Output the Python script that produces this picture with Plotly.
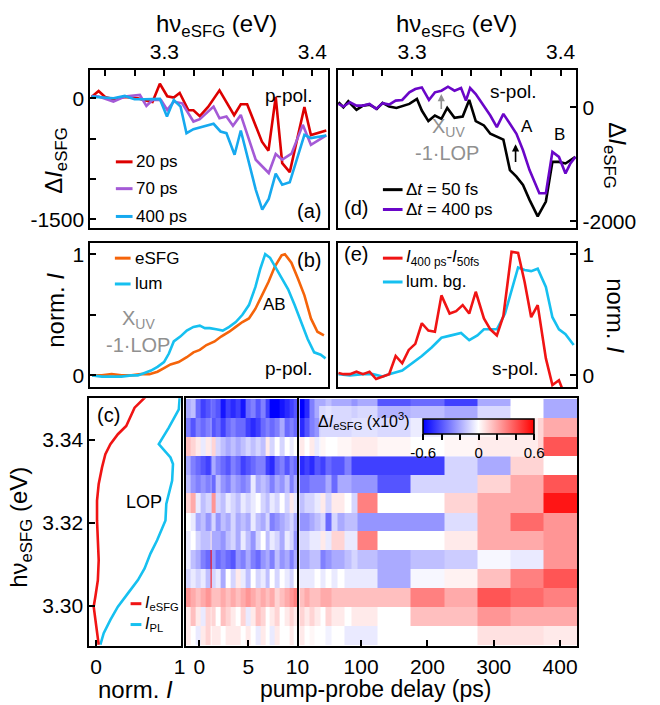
import plotly.graph_objects as go

W, H = 660, 705
FONT = "Liberation Sans, Arial, Helvetica, sans-serif"

# ---------------- data ----------------
# (a) p-pol. Delta I_eSFG vs photon energy
a20_e = [3.2508, 3.2556, 3.2600, 3.2656, 3.2733, 3.2821, 3.2866, 3.2920, 3.2970, 3.3020, 3.3064, 3.3104,
         3.3163, 3.3197, 3.3240, 3.3296, 3.3373, 3.3472, 3.3517, 3.3560, 3.3660, 3.3704, 3.3753, 3.3797,
         3.3848, 3.3947, 3.3991, 3.4095]
a20_v = [16, 90, 16, -12, 16, 0, -25, -45, 180, 25, 8, 65, -148, -148, -221, -107, 98, -209, -74, -74,
         -537, -648, 16, -803, -914, -107, -455, -400]
a70_e = [3.2508, 3.2556, 3.2656, 3.2733, 3.2835, 3.2879, 3.2920, 3.2978, 3.3020, 3.3064, 3.3121, 3.3197,
         3.3240, 3.3333, 3.3373, 3.3420, 3.3464, 3.3517, 3.3618, 3.3706, 3.3753, 3.3797, 3.3860, 3.3936,
         3.3991, 3.4095]
a70_v = [29, 21, -41, 21, 41, -94, -21, -21, -144, -41, -62, -288, -259, -103, -247, -226, -341, -206,
         -760, -925, -690, -760, -686, -329, -575, -460]
a400_e = [3.2508, 3.2556, 3.2656, 3.2733, 3.2799, 3.2866, 3.2970, 3.3018, 3.3064, 3.3110, 3.3150, 3.3197,
          3.3333, 3.3380, 3.3420, 3.3475, 3.3517, 3.3618, 3.3662, 3.3706, 3.3753, 3.3797, 3.3848, 3.3947,
          3.3991, 3.4095]
a400_v = [21, 12, 0, 29, -12, -12, -8, -226, -21, -103, -432, -382, -316, -411, -432, -699, -399, -1130,
          -1377, -1245, -933, -1069, -1040, -452, -493, -460]

# (b) p-pol. normalized eSFG and luminescence
b_sfg_e = [3.2512, 3.2578, 3.2644, 3.2711, 3.2777, 3.2843, 3.2899, 3.2954, 3.2998, 3.3042, 3.3097, 3.3152,
           3.3197, 3.3240, 3.3285, 3.3340, 3.3384, 3.3439, 3.3483, 3.3528, 3.3572, 3.3616, 3.3660, 3.3704,
           3.3748, 3.3793, 3.3815, 3.3859, 3.3903, 3.3947, 3.3991, 3.4035, 3.4079]
b_sfg_v = [0.00, 0.00, 0.01, 0.00, 0.00, 0.01, 0.01, 0.03, 0.06, 0.09, 0.11, 0.15, 0.19, 0.21, 0.25, 0.28,
           0.32, 0.36, 0.40, 0.44, 0.47, 0.55, 0.66, 0.77, 0.90, 0.99, 1.00, 0.93, 0.80, 0.66, 0.47, 0.36, 0.33]
b_lum_e = [3.2512, 3.2578, 3.2644, 3.2711, 3.2777, 3.2821, 3.2866, 3.2910, 3.2954, 3.2998, 3.3031, 3.3064,
           3.3108, 3.3152, 3.3197, 3.3240, 3.3274, 3.3307, 3.3351, 3.3395, 3.3439, 3.3483, 3.3528, 3.3572,
           3.3616, 3.3649, 3.3682, 3.3715, 3.3748, 3.3793, 3.3837, 3.3881, 3.3925, 3.3969, 3.4013, 3.4057, 3.4090]
b_lum_v = [0.00, -0.01, -0.01, -0.01, 0.00, 0.00, 0.02, 0.04, 0.07, 0.11, 0.18, 0.28, 0.32, 0.37, 0.40, 0.41,
           0.39, 0.39, 0.38, 0.37, 0.40, 0.44, 0.50, 0.58, 0.73, 0.88, 1.00, 0.97, 0.90, 0.80, 0.71, 0.58,
           0.44, 0.30, 0.19, 0.17, 0.14]

# (d) s-pol. Delta I_eSFG
d50_e = [3.2505, 3.2538, 3.2571, 3.2626, 3.2670, 3.2714, 3.2763, 3.2802, 3.2846, 3.2895, 3.2982, 3.3033,
         3.3066, 3.3110, 3.3154, 3.3198, 3.3237, 3.3286, 3.3341, 3.3385, 3.3429, 3.3484, 3.3527, 3.3567,
         3.3615, 3.3659, 3.3703, 3.3747, 3.3791, 3.3846, 3.3901, 3.3945, 3.3989, 3.4033, 3.4066, 3.4100]
d50_v = [87, 0, 104, -46, 29, 46, -29, 75, 12, -12, 58, 145, -58, -243, -145, -203, -12, -186, -162, 128,
         -243, -319, -464, -510, -568, -1101, -1217, -1362, -1623, -1913, -1652, -957, -957, -985, -928, -870]
d400_e = [3.2505, 3.2538, 3.2582, 3.2626, 3.2670, 3.2714, 3.2758, 3.2802, 3.2846, 3.2890, 3.2934, 3.2982,
          3.3022, 3.3066, 3.3114, 3.3154, 3.3198, 3.3242, 3.3286, 3.3330, 3.3363, 3.3391, 3.3429, 3.3484,
          3.3527, 3.3571, 3.3615, 3.3659, 3.3703, 3.3747, 3.3791, 3.3857, 3.3901, 3.3945, 3.3989, 3.4033,
          3.4066, 3.4100]
d400_v = [58, 12, 87, 29, 29, 58, -29, 70, 46, 116, 128, 261, 319, 348, 128, 261, 290, 359, 290, 336, 116,
          336, 232, 12, -145, -348, -116, -290, -464, -754, -1101, -1507, -1507, -783, -870, -1159, -986, -870]

# (e) s-pol. normalized difference and luminescence background
e_diff_e = [3.2505, 3.2538, 3.2582, 3.2626, 3.2670, 3.2714, 3.2758, 3.2802, 3.2846, 3.2890, 3.2934, 3.2978,
            3.3022, 3.3066, 3.3110, 3.3154, 3.3198, 3.3253, 3.3297, 3.3341, 3.3385, 3.3429, 3.3484, 3.3527,
            3.3571, 3.3615, 3.3670, 3.3714, 3.3758, 3.3802, 3.3846, 3.3901, 3.3945, 3.3989, 3.4011]
e_diff_v = [0.02, 0.01, 0.01, 0.03, 0.01, 0.03, -0.03, -0.01, 0.01, 0.16, 0.10, 0.21, 0.26, 0.43, 0.37, 0.36,
            0.66, 0.51, 0.53, 0.58, 0.51, 0.69, 0.47, 0.38, 0.33, 0.49, 1.02, 1.01, 0.77, 0.48, 0.58, 0.14,
            -0.08, -0.04, -0.11]
e_bg_e = [3.2505, 3.2582, 3.2670, 3.2736, 3.2802, 3.2846, 3.2934, 3.3000, 3.3066, 3.3132, 3.3198, 3.3264,
          3.3330, 3.3385, 3.3440, 3.3484, 3.3527, 3.3571, 3.3626, 3.3670, 3.3714, 3.3758, 3.3802, 3.3846,
          3.3901, 3.3945, 3.3989, 3.4033, 3.4088]
e_bg_v = [0.01, 0.00, 0.01, 0.01, -0.01, 0.01, 0.04, 0.10, 0.16, 0.23, 0.31, 0.33, 0.35, 0.29, 0.33, 0.38,
          0.38, 0.38, 0.51, 0.69, 0.89, 0.87, 0.86, 0.88, 0.73, 0.48, 0.38, 0.34, 0.25]

# (c) normalized intensity vs photon energy (vertical)
c_sfg_e = [3.2906, 3.2934, 3.2966, 3.2998, 3.3022, 3.3062, 3.3110, 3.3158, 3.3206, 3.3254, 3.3294, 3.3334,
           3.3366, 3.3390, 3.3414, 3.3434, 3.3478, 3.3502, 3.3520]
c_sfg_v = [0.03, 0.01, -0.01, -0.03, -0.01, 0.02, 0.03, 0.02, 0.01, 0.01, 0.03, 0.07, 0.11, 0.17, 0.26,
           0.36, 0.46, 0.58, 0.66]
c_pl_e = [3.2906, 3.2934, 3.2966, 3.2998, 3.3030, 3.3062, 3.3090, 3.3126, 3.3158, 3.3206, 3.3246, 3.3270,
          3.3302, 3.3342, 3.3358, 3.3390, 3.3430, 3.3474, 3.3502]
c_pl_v = [0.05, 0.09, 0.17, 0.26, 0.38, 0.50, 0.58, 0.65, 0.73, 0.83, 0.84, 0.87, 0.91, 0.92, 0.89, 0.75,
          0.87, 0.99, 1.00]

# heat maps: Delta I_eSFG (x10^3) vs delay and photon energy
row_energy = [3.3476, 3.3430, 3.3385, 3.3339, 3.3294, 3.3248, 3.3202, 3.3157, 3.3111, 3.3066, 3.3020,
              3.2975, 3.2929]
delay_short_edges = [-1.4, -0.9, -0.4, 0.1, 0.6, 1.15, 1.25, 1.7, 2.2, 2.7, 3.2, 3.7, 4.2, 4.7, 5.2, 5.7,
                     6.2, 6.7, 7.2, 7.7, 8.2, 8.7, 9.2, 9.6, 10.0]
z_short = [
    [-0.20, -0.15, -0.35, -0.45, -0.40, -0.30, -0.35, -0.40, -0.55, -0.45, -0.50, -0.45, -0.55, -0.35, -0.30, -0.40, -0.30, -0.45, -0.60, -0.60, -0.55, -0.50, -0.45, -0.40],
    [-0.30, -0.40, -0.30, -0.35, -0.30, -0.20, -0.40, -0.35, -0.45, -0.35, -0.30, -0.35, -0.35, -0.45, -0.50, -0.45, -0.35, -0.30, -0.35, -0.30, -0.20, -0.35, -0.30, -0.35],
    [0.15, 0.10, 0.05, -0.05, 0.05, -0.05, 0.10, -0.10, -0.15, -0.20, -0.15, -0.20, -0.15, -0.10, -0.15, -0.10, -0.15, 0.05, -0.10, 0.00, -0.10, 0.00, -0.05, 0.00],
    [-0.20, -0.30, -0.35, -0.40, -0.45, -0.35, -0.20, -0.30, -0.35, -0.40, -0.30, -0.35, -0.45, -0.40, -0.35, -0.30, -0.30, -0.45, -0.50, -0.35, -0.30, -0.40, -0.30, -0.35],
    [-0.15, -0.25, -0.30, -0.25, -0.30, -0.20, -0.35, -0.15, -0.25, -0.30, -0.20, -0.25, -0.30, -0.25, -0.05, -0.20, -0.15, -0.20, -0.30, -0.20, -0.25, -0.15, -0.30, -0.20],
    [0.10, 0.20, -0.05, -0.15, -0.10, -0.10, 0.25, -0.10, -0.15, -0.05, -0.10, -0.15, -0.05, -0.10, -0.05, 0.00, -0.10, -0.15, -0.05, -0.10, 0.00, -0.10, 0.05, -0.05],
    [0.00, -0.05, -0.20, -0.15, -0.25, -0.20, -0.10, -0.25, -0.15, -0.20, -0.10, -0.20, -0.15, -0.20, -0.05, -0.15, -0.20, -0.10, -0.30, -0.25, -0.20, -0.15, -0.10, -0.20],
    [-0.05, 0.00, -0.10, -0.15, -0.15, 0.05, -0.20, -0.20, -0.25, -0.15, -0.10, -0.20, -0.05, -0.15, -0.25, -0.10, 0.00, -0.15, -0.05, -0.10, -0.20, -0.05, -0.10, -0.25],
    [-0.05, -0.15, -0.20, -0.30, -0.35, 0.60, -0.25, -0.35, -0.30, -0.35, -0.40, -0.25, -0.30, -0.20, -0.30, -0.35, -0.25, -0.20, -0.30, -0.15, -0.25, -0.20, -0.30, -0.20],
    [-0.10, -0.05, -0.10, -0.05, -0.15, 0.55, -0.10, -0.05, -0.20, 0.00, -0.10, 0.05, -0.05, -0.15, 0.00, -0.10, -0.05, -0.15, 0.00, -0.10, 0.00, -0.05, -0.10, 0.00],
    [0.25, 0.20, 0.15, 0.20, 0.25, 0.20, 0.15, 0.15, 0.20, 0.15, 0.20, 0.15, 0.20, 0.25, 0.20, 0.15, 0.20, 0.15, 0.20, 0.10, 0.15, 0.20, 0.25, 0.30],
    [0.05, 0.15, 0.05, -0.05, 0.10, 0.05, 0.10, 0.00, 0.15, 0.10, 0.05, 0.00, 0.10, -0.05, 0.05, 0.15, 0.10, 0.00, 0.05, 0.10, 0.00, 0.05, 0.10, 0.05],
    [0.05, 0.00, -0.05, 0.05, 0.10, 0.00, 0.05, 0.05, 0.00, 0.05, 0.05, 0.05, 0.00, 0.05, 0.00, -0.05, 0.05, 0.00, -0.05, 0.05, 0.00, 0.00, 0.05, 0.00],
]
delay_long_edges = [7, 15, 22, 30, 38, 46, 55, 65, 75, 85, 95, 125, 175, 225, 275, 325, 375, 426]
z_long = [
    [-0.60, -0.50, -0.30, -0.20, -0.20, -0.15, -0.20, -0.20, -0.20, -0.25, -0.20, -0.40, -0.35, -0.45, -0.20, 0.00, -0.20],
    [-0.50, -0.40, -0.30, -0.25, -0.20, -0.20, -0.20, -0.20, -0.20, -0.15, -0.15, -0.20, -0.10, -0.05, 0.05, 0.10, 0.20],
    [0.05, 0.00, 0.05, -0.05, 0.05, 0.00, 0.00, 0.05, 0.05, 0.10, 0.10, 0.05, 0.00, 0.05, 0.10, 0.10, 0.40],
    [-0.50, -0.45, -0.50, -0.40, -0.45, -0.35, -0.40, -0.40, -0.30, -0.45, -0.45, -0.45, -0.45, -0.10, -0.20, 0.10, 0.00],
    [-0.35, -0.35, -0.30, -0.30, -0.30, -0.20, -0.35, -0.20, -0.20, -0.25, -0.25, -0.40, -0.10, -0.10, 0.10, 0.20, 0.40],
    [-0.15, -0.10, -0.10, -0.05, 0.05, -0.10, 0.05, 0.05, 0.00, -0.10, 0.30, 0.00, 0.00, 0.10, 0.20, 0.20, 0.55],
    [-0.25, -0.25, -0.20, -0.15, -0.10, -0.35, -0.10, -0.20, -0.15, -0.15, -0.25, -0.25, -0.25, -0.08, 0.20, 0.35, 0.25],
    [-0.10, -0.10, -0.05, -0.05, 0.05, -0.05, 0.10, 0.10, -0.05, -0.05, 0.30, 0.00, 0.00, 0.05, 0.20, 0.20, 0.25],
    [-0.20, -0.20, -0.15, -0.15, -0.30, -0.25, -0.20, -0.20, -0.15, -0.10, -0.15, -0.20, -0.15, -0.12, -0.02, -0.05, 0.25],
    [-0.05, -0.05, -0.05, 0.00, -0.05, 0.00, -0.05, 0.00, -0.05, -0.05, -0.05, -0.20, -0.02, 0.03, 0.15, 0.30, 0.40],
    [0.15, 0.20, 0.15, 0.15, 0.20, 0.20, 0.15, 0.15, 0.15, 0.15, 0.15, 0.15, 0.30, 0.20, 0.40, 0.35, 0.30],
    [0.10, 0.05, 0.10, 0.05, 0.00, 0.10, 0.05, 0.05, 0.00, 0.05, 0.05, 0.00, 0.15, 0.15, 0.25, 0.20, 0.20],
    [0.05, 0.00, 0.02, 0.00, 0.00, -0.03, 0.00, 0.00, -0.05, -0.05, -0.05, 0.00, 0.00, 0.00, 0.07, 0.07, 0.05],
]
cbar_ticks = [-0.6, -0.4, -0.2, 0, 0.2, 0.4, 0.6]
cbar_text = ['-0.6', '', '', '0', '', '', '0.6']

# ---------------- helpers ----------------
def px(x):
    return x / W


def py(y):
    return 1 - y / H


RED = '#dd0000'
PURPLE = '#a45ad6'
SKY = '#16a9ef'
ORANGE = '#f5640a'
CYAN = '#16c0f0'
VIOLET = '#6a06c8'
BRED = '#f01414'
GRAY = '#909090'

fig = go.Figure()


def line(x, y, color, xa, ya):
    fig.add_trace(go.Scatter(x=x, y=y, mode='lines', line=dict(color=color, width=2.6),
                             xaxis=xa, yaxis=ya, showlegend=False, hoverinfo='skip'))


line(a20_e, a20_v, RED, 'x', 'y')
line(a70_e, a70_v, PURPLE, 'x', 'y')
line(a400_e, a400_v, SKY, 'x', 'y')
line(b_sfg_e, b_sfg_v, ORANGE, 'x2', 'y2')
line(b_lum_e, b_lum_v, CYAN, 'x2', 'y2')
line(d50_e, d50_v, 'black', 'x3', 'y3')
line(d400_e, d400_v, VIOLET, 'x3', 'y3')
line(e_bg_e, e_bg_v, CYAN, 'x4', 'y4')
line(e_diff_e, e_diff_v, BRED, 'x4', 'y4')
line(c_pl_v, c_pl_e, CYAN, 'x5', 'y5')
line(c_sfg_v, c_sfg_e, BRED, 'x5', 'y5')

fig.add_trace(go.Heatmap(x=delay_short_edges, y=row_energy[::-1], z=z_short[::-1], coloraxis='coloraxis',
                         xaxis='x6', yaxis='y6', hoverinfo='skip'))
fig.add_trace(go.Heatmap(x=delay_long_edges, y=row_energy[::-1], z=z_long[::-1], coloraxis='coloraxis',
                         xaxis='x7', yaxis='y7', hoverinfo='skip'))

TICKFONT = dict(size=21, family=FONT, color='black')
base = dict(showgrid=False, zeroline=False, showline=True, linecolor='black', linewidth=2, mirror=True,
            ticks='inside', ticklen=6, tickwidth=2, tickcolor='black', tickfont=TICKFONT, fixedrange=True)


def minor(vals):
    return dict(tickmode='array', tickvals=vals, ticks='inside', ticklen=6, tickwidth=2, tickcolor='black',
                showgrid=False)


E_RANGE = [3.25, 3.4106]
e_major = [3.3, 3.4]
e_minor = [3.26, 3.28, 3.32, 3.34, 3.36, 3.38]
top_y = [py(229), py(69)]
mid_y = [py(389), py(244)]
low_y = [py(650), py(400)]
HE_RANGE = [3.2902, 3.3501]

layout_axes = dict(
    xaxis=dict(base, domain=[px(92), px(334)], range=E_RANGE, side='top', anchor='y',
               tickvals=e_major, ticktext=['3.3', '3.4'], minor=minor(e_minor)),
    yaxis=dict(base, domain=top_y, range=[-1610, 356], anchor='x',
               tickvals=[0, -1500], ticktext=['0', '-1500'], minor=minor([-500, -1000])),
    xaxis2=dict(base, domain=[px(92), px(334)], range=E_RANGE, anchor='y2', ticks='', showticklabels=False),
    yaxis2=dict(base, domain=mid_y, range=[-0.098, 1.09], anchor='x2',
                tickvals=[0, 1], ticktext=['0', '1'], minor=minor([0.5])),
    xaxis3=dict(base, domain=[px(344), px(587)], range=E_RANGE, side='top', anchor='y3',
                tickvals=e_major, ticktext=['3.3', '3.4'], minor=minor(e_minor)),
    yaxis3=dict(base, domain=top_y, range=[-2122, 661], anchor='x3', side='right',
                tickvals=[0, -2000], ticktext=['0', '-2000']),
    xaxis4=dict(base, domain=[px(344), px(587)], range=E_RANGE, anchor='y4', ticks='', showticklabels=False),
    yaxis4=dict(base, domain=mid_y, range=[-0.098, 1.09], anchor='x4', side='right',
                tickvals=[0, 1], ticktext=['0', '1'], minor=minor([0.5])),
    xaxis5=dict(base, domain=[px(91), px(184)], range=[-0.082, 1.012], anchor='y5',
                tickvals=[0, 1], ticktext=['0', '1']),
    yaxis5=dict(base, domain=low_y, range=HE_RANGE, anchor='x5',
                tickvals=[3.30, 3.32, 3.34], ticktext=['3.30', '3.32', '3.34']),
    xaxis6=dict(base, domain=[px(189), px(303)], range=[-1.4, 10], anchor='y6',
                tickvals=[0, 5, 10], ticktext=['0', '5', '10']),
    yaxis6=dict(base, domain=low_y, range=HE_RANGE, anchor='x6', ticks='', showticklabels=False),
    xaxis7=dict(base, domain=[px(305), px(588)], range=[7, 426], anchor='y7',
                tickvals=[100, 200, 300, 400], ticktext=['100', '200', '300', '400']),
    yaxis7=dict(base, domain=low_y, range=HE_RANGE, anchor='x7', ticks='', showticklabels=False),
)

annotations = []
shapes = []


def label(text, x, y, size=18, color='black', angle=0, xanchor='center', yanchor='middle'):
    annotations.append(dict(text=text, x=px(x), y=py(y), xref='paper', yref='paper', showarrow=False,
                            font=dict(size=size, color=color, family=FONT), textangle=angle,
                            xanchor=xanchor, yanchor=yanchor, borderpad=0))


def legend_item(x0, x1, y, color, text, size=17):
    shapes.append(dict(type='line', xref='paper', yref='paper', x0=px(x0), x1=px(x1), y0=py(y), y1=py(y),
                       line=dict(color=color, width=3), layer='above'))
    label(text, x1 + 3, y, size=size, xanchor='left')


HNU = 'hν<sub>eSFG</sub> (eV)'
DI = 'Δ<i>I</i><sub>eSFG</sub>'
NI = 'norm. <i>I</i>'

# axis titles
label(HNU, 220, 25, size=24)
label(HNU, 465, 25, size=24)
label(DI, 57, 160, size=24, angle=-90)
label(NI, 57, 311, size=24, angle=-90)
label(DI, 627, 156, size=24, angle=90)
label(NI, 627, 317, size=24, angle=90)
label(HNU, 21, 530, size=24, angle=-90)
label(NI, 138, 693, size=24)
label('pump-probe delay (ps)', 382, 693, size=23)

# panel (a)
label('p-pol.', 294, 95, size=19)
label('(a)', 315, 212, size=20)
legend_item(118, 135, 162, RED, '20 ps')
legend_item(118, 135, 189, PURPLE, '70 ps')
legend_item(118, 135, 217, SKY, '400 ps')

# panel (b)
label('(b)', 315, 261, size=20)
label('AB', 280, 306, size=17)
label('X<sub>UV</sub>', 141, 334, size=20, color=GRAY, yanchor='bottom')
label('-1·LOP', 141, 334, size=20, color=GRAY, yanchor='top')
label('p-pol.', 294, 370, size=19)
legend_item(117, 133, 259, ORANGE, 'eSFG')
legend_item(117, 133, 285, CYAN, 'lum')

# panel (d)
label('s-pol.', 523, 91, size=19)
label('X<sub>UV</sub>', 457, 141, size=20, color=GRAY, yanchor='bottom')
label('-1·LOP', 455, 141, size=20, color=GRAY, yanchor='top')
label('A', 537, 126, size=17)
label('B', 570, 134, size=17)
label('(d)', 363, 208, size=20)
legend_item(390, 410, 190, 'black', 'Δ<i>t</i> = 50 fs')
legend_item(390, 410, 210, VIOLET, 'Δ<i>t</i> = 400 ps')
annotations.append(dict(x=3.3197, y=230, ax=3.3197, ay=-55, xref='x3', yref='y3', axref='x3', ayref='y3',
                        showarrow=True, arrowhead=2, arrowsize=0.9, arrowwidth=1.6, arrowcolor=GRAY, text=''))
annotations.append(dict(x=3.3697, y=-650, ax=3.3697, ay=-985, xref='x3', yref='y3', axref='x3', ayref='y3',
                        showarrow=True, arrowhead=2, arrowsize=0.9, arrowwidth=1.6, arrowcolor='black', text=''))

# panel (e)
label('(e)', 363, 255, size=20)
label('s-pol.', 525, 370, size=19)
legend_item(390, 410, 259, BRED, '<i>I</i><sub>400 ps</sub>-<i>I</i><sub>50fs</sub>')
legend_item(390, 410, 283, CYAN, 'lum. bg.')

# panel (c)
label('(c)', 110, 417, size=20)
label('LOP', 147, 505, size=18)
legend_item(133, 144, 607, BRED, '<i>I</i><sub>eSFG</sub>', size=16)
legend_item(133, 144, 628, CYAN, '<i>I</i><sub>PL</sub>', size=16)

# colorbar backdrop and title
shapes.append(dict(type='rect', xref='paper', yref='paper', x0=px(325), x1=px(548), y0=py(459), y1=py(408),
                   fillcolor='rgba(255,255,255,0.55)', line=dict(width=0), layer='above'))
label(DI + ' (x10<sup>3</sup>)', 419, 423, size=16, xanchor='right')

fig.update_layout(
    width=W, height=H, margin=dict(l=0, r=0, t=0, b=0),
    paper_bgcolor='white', plot_bgcolor='white',
    font=dict(family=FONT, color='black'),
    showlegend=False,
    annotations=annotations, shapes=shapes,
    coloraxis=dict(cmin=-0.6, cmax=0.6,
                   colorscale=[[0, 'rgb(0,0,255)'], [0.5, 'rgb(255,255,255)'], [1, 'rgb(255,0,0)']],
                   colorbar=dict(orientation='h', x=px(487.5), xanchor='center', y=py(421), yanchor='top',
                                 len=111, lenmode='pixels', thickness=15, thicknessmode='pixels',
                                 outlinecolor='black', outlinewidth=1.5, xpad=0, ypad=0,
                                 tickmode='array', tickvals=cbar_ticks, ticktext=cbar_text,
                                 ticks='outside', ticklen=6, tickwidth=1.5, tickcolor='black',
                                 tickfont=dict(size=15, family=FONT, color='black'),
                                 bgcolor='rgba(0,0,0,0)')),
    **layout_axes,
)

fig.write_html('out.html')
